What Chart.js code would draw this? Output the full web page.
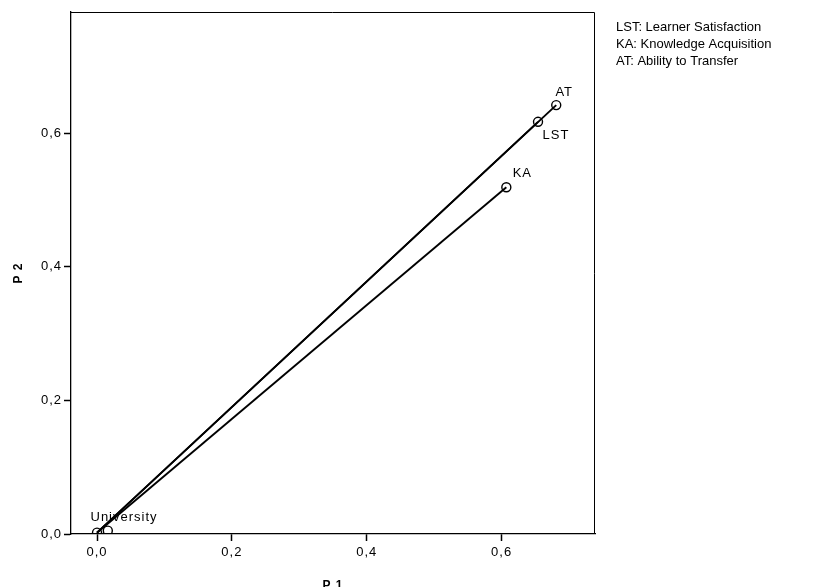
<!DOCTYPE html>
<html>
<head>
<meta charset="utf-8">
<script src="https://cdn.jsdelivr.net/npm/chart.js@4"></script>
<style>
  html, body { margin: 0; padding: 0; background: #fff; }
  #wrap { position: relative; width: 819px; height: 587px; }
</style>
</head>
<body>
<div id="wrap"><canvas id="plotCanvas" width="819" height="587"></canvas></div>
<script>

// category points on the two dimensions
const pointNames = ['University', '', 'LST', 'KA', 'AT'];
const p1Values = [0.000, 0.016, 0.654, 0.607, 0.681];
const p2Values = [0.002, 0.005, 0.617, 0.519, 0.642];

// vectors drawn from the first point to these
const vectorTargets = ['LST', 'KA', 'AT'];

const xTickValues = [0, 0.2, 0.4, 0.6];
const yTickValues = [0, 0.2, 0.4, 0.6];

const noteLines = [
    'LST: Learner Satisfaction',
    'KA: Knowledge Acquisition',
    'AT: Ability to Transfer'
];

const fontFamily = '"Liberation Sans", Arial, sans-serif';
const fmt = v => v.toFixed(1).replace('.', ',');

const points = pointNames.map((n, i) => ({ x: p1Values[i], y: p2Values[i] }));

const vectorSets = vectorTargets.map(name => {
    const i = pointNames.indexOf(name);
    return {
        type: 'scatter',
        data: [points[0], points[i]],
        showLine: true,
        borderColor: '#000',
        borderWidth: 1.9,
        pointRadius: 0,
        pointHoverRadius: 0,
        order: 2
    };
});

// where each point label sits relative to its circle
const labelShift = {
    University: [27, -15],
    LST: [18, 14],
    KA: [16, -14],
    AT: [8, -13]
};

const decorPlugin = {
    id: 'decor',
    beforeDraw(chart) {
        chart.ctx.letterSpacing = '1px';
    },
    afterDatasetsDraw(chart) {
        const ctx = chart.ctx;
        const a = chart.chartArea;
        const xs = chart.scales.x, ys = chart.scales.y;
        ctx.save();
        ctx.strokeStyle = '#000';
        ctx.lineWidth = 1;
        ctx.beginPath();
        ctx.moveTo(a.left, a.top + 0.5);
        ctx.lineTo(a.right - 0.5, a.top + 0.5);
        ctx.lineTo(a.right - 0.5, a.bottom);
        ctx.stroke();

        ctx.fillStyle = '#000';
        ctx.font = '13px ' + fontFamily;
        ctx.letterSpacing = '1px';
        ctx.textAlign = 'center';
        ctx.textBaseline = 'middle';
        pointNames.forEach((name, i) => {
            if (!name) return;
            const s = labelShift[name] || [12, -12];
            const px = xs.getPixelForValue(p1Values[i]);
            const py = ys.getPixelForValue(p2Values[i]);
            ctx.fillText(name, px + s[0], py + s[1]);
        });

        ctx.letterSpacing = '0px';
        ctx.textAlign = 'left';
        noteLines.forEach((t, k) => {
            ctx.fillText(t, a.right + 21, 27 + k * 17);
        });
        ctx.restore();
    }
};

const tickFont = { family: fontFamily, size: 13 };

new Chart(document.getElementById('plotCanvas'), {
    type: 'scatter',
    data: {
        datasets: [{
            data: points,
            pointRadius: 4.5,
            pointHoverRadius: 4.5,
            pointBorderWidth: 1.4,
            pointBorderColor: '#000',
            pointBackgroundColor: 'rgba(0,0,0,0)',
            order: 1
        }].concat(vectorSets)
    },
    options: {
        responsive: false,
        animation: false,
        devicePixelRatio: 1,
        layout: { padding: { left: 0, right: 224, top: 12, bottom: 0 } },
        plugins: {
            legend: { display: false },
            tooltip: { enabled: false }
        },
        scales: {
            x: {
                type: 'linear',
                min: -0.0386,
                max: 0.7385,
                afterBuildTicks: s => { s.ticks = xTickValues.map(v => ({ value: v })); },
                afterFit: s => { s.height = 53; },
                ticks: { color: '#000', font: tickFont, padding: 4, maxRotation: 0, callback: v => fmt(v) },
                grid: { drawOnChartArea: false, drawTicks: true, tickLength: 7, color: '#000', tickWidth: 1.5 },
                border: { display: true, color: '#000', width: 1.3 },
                title: {
                    display: true, text: 'P 1', color: '#000',
                    font: { family: fontFamily, size: 12, weight: 'bold' },
                    padding: { top: 0, bottom: -6 }
                }
            },
            y: {
                type: 'linear',
                min: 0,
                max: 0.7814,
                afterBuildTicks: s => { s.ticks = yTickValues.map(v => ({ value: v })); },
                afterFit: s => { s.width = 71; },
                ticks: { color: '#000', font: tickFont, padding: 2, callback: v => fmt(v) },
                grid: { drawOnChartArea: false, drawTicks: true, tickLength: 7, color: '#000', tickWidth: 1.5 },
                border: { display: true, color: '#000', width: 1.3 },
                title: {
                    display: true, text: 'P 2', color: '#000',
                    font: { family: fontFamily, size: 12, weight: 'bold' },
                    padding: { top: 11, bottom: 0 }
                }
            }
        }
    },
    plugins: [decorPlugin]
});

</script>
</body>
</html>
